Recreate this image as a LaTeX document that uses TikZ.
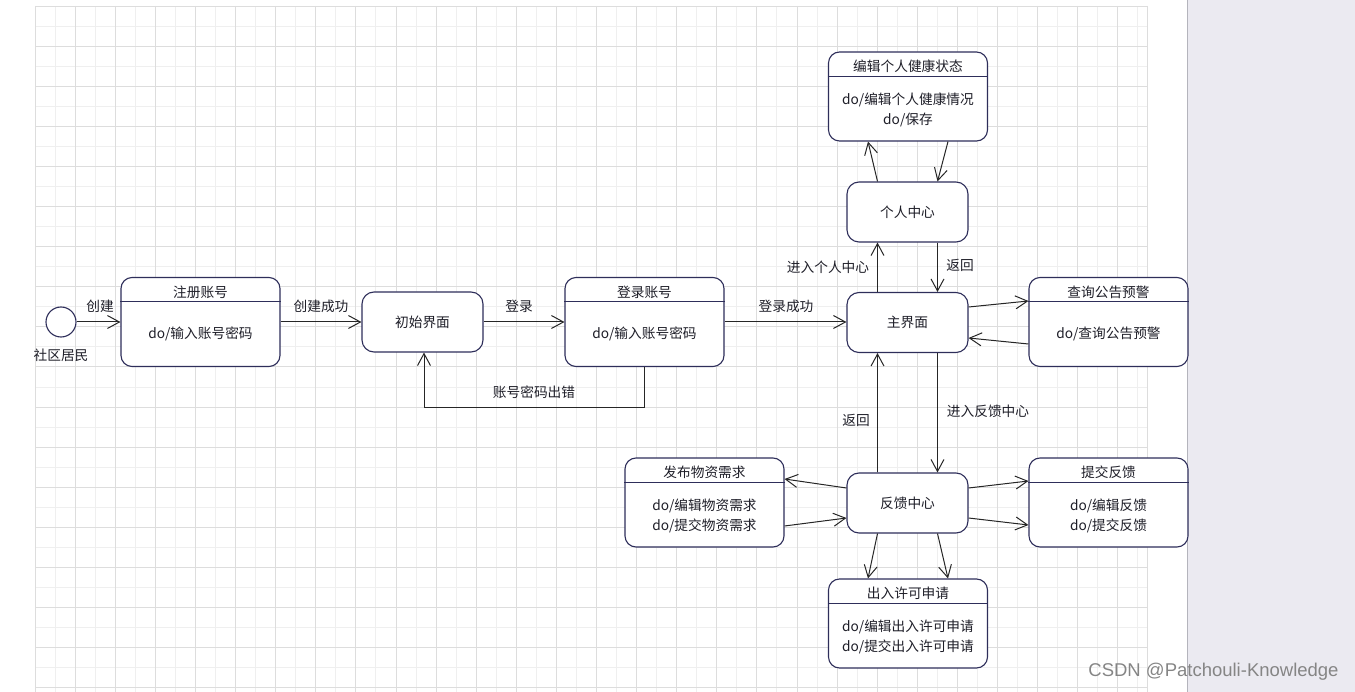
\documentclass[tikz,border=0pt]{standalone}
\usepackage{fontspec}
\setmainfont{Noto Sans CJK SC}
\newfontfamily\wmfont{Liberation Sans}
\usetikzlibrary{arrows.meta,calc}
\definecolor{nodeline}{HTML}{2E2E5A}
\definecolor{txtcol}{HTML}{1E1E28}
\definecolor{griddark}{HTML}{DDDDDD}
\definecolor{gridlight}{HTML}{EFEFEF}
\definecolor{panel}{HTML}{EBEAF1}
\definecolor{panelline}{HTML}{B4B4BC}
\definecolor{edgecol}{HTML}{262626}
\tikzset{
  stbox/.style={draw=nodeline, line width=1.1pt, rounded corners=11pt, fill=white,
    minimum width=159pt, minimum height=89pt, inner sep=0pt},
  simplebox/.style={draw=nodeline, line width=1.1pt, rounded corners=12pt, fill=white,
    minimum width=121pt, minimum height=60pt, inner sep=0pt,
    font=\fontsize{13.7}{16}\selectfont, text=txtcol},
  txt/.style={font=\fontsize{13.7}{20}\selectfont, text=txtcol, inner sep=0pt, align=center},
  hdr/.style={draw=nodeline, line width=1.1pt},
  conn/.style={draw=edgecol, line width=1pt, -{Straight Barb[length=12pt,width=13pt]}},
}
\begin{document}
\begin{tikzpicture}[x=1pt,y=-1pt]
\useasboundingbox (0,0) rectangle (1355,692);
% grid
\foreach \j in {0,...,27} \draw[gridlight, line width=0.8pt] ({55.05+40.1*\j},6) -- ({55.05+40.1*\j},692);
\foreach \j in {0,...,16} \draw[gridlight, line width=0.8pt] (35,{26.05+40.1*\j}) -- (1147,{26.05+40.1*\j});
\foreach \j in {0,...,27} \draw[griddark, line width=0.8pt] ({35+40.1*\j},6) -- ({35+40.1*\j},692);
\foreach \j in {0,...,17} \draw[griddark, line width=0.8pt] (35,{6+40.1*\j}) -- (1147,{6+40.1*\j});
\draw[griddark, line width=0.8pt] (1147,6) -- (1147,692);
% right panel
\fill[panel] (1187,0) rectangle (1355,692);
\draw[panelline, line width=1pt] (1187.5,0) -- (1187.5,692);

% initial state
\node[circle, draw=nodeline, line width=1.1pt, fill=white, minimum size=30pt, inner sep=0pt] (init) at (61,322) {};
\node[txt] (initlbl) at (61,355) {社区居民};

% 注册账号
\node[stbox] (zc) at (200.5,322) {};
\draw[hdr] ($(zc.north west)+(0,25)$) -- ($(zc.north east)+(0,25)$);
\node[txt] (zct) at (200.5,292) {注册账号};
\node[txt] (zcb) at (200.5,334) {do/输入账号密码};

% 初始界面
\node[simplebox] (csjm) at (422.5,322) {初始界面};

% 登录账号
\node[stbox] (dl) at (644.5,322) {};
\draw[hdr] ($(dl.north west)+(0,25)$) -- ($(dl.north east)+(0,25)$);
\node[txt] (dlt) at (644.5,292) {登录账号};
\node[txt] (dlb) at (644.5,334) {do/输入账号密码};

% 主界面
\node[simplebox] (zjm) at (907.5,322.5) {主界面};
% 个人中心
\node[simplebox] (grzx) at (907.5,212) {个人中心};
% 反馈中心
\node[simplebox] (fkzx) at (907.5,503) {反馈中心};

% 编辑个人健康状态
\node[stbox] (bj) at (908,96.5) {};
\draw[hdr] ($(bj.north west)+(0,25)$) -- ($(bj.north east)+(0,25)$);
\node[txt] (bjt) at (908,66.5) {编辑个人健康状态};
\node[txt] (bjb) at (908,110) {do/编辑个人健康情况\\do/保存};

% 查询公告预警
\node[stbox] (cx) at (1108.5,322) {};
\draw[hdr] ($(cx.north west)+(0,25)$) -- ($(cx.north east)+(0,25)$);
\node[txt] (cxt) at (1108.5,292) {查询公告预警};
\node[txt] (cxb) at (1108.5,334) {do/查询公告预警};

% 发布物资需求
\node[stbox] (fb) at (704.5,502.5) {};
\draw[hdr] ($(fb.north west)+(0,25)$) -- ($(fb.north east)+(0,25)$);
\node[txt] (fbt) at (704.5,472.5) {发布物资需求};
\node[txt] (fbb) at (704.5,516) {do/编辑物资需求\\do/提交物资需求};

% 提交反馈
\node[stbox] (tj) at (1108.5,502.5) {};
\draw[hdr] ($(tj.north west)+(0,25)$) -- ($(tj.north east)+(0,25)$);
\node[txt] (tjt) at (1108.5,472.5) {提交反馈};
\node[txt] (tjb) at (1108.5,516) {do/编辑反馈\\do/提交反馈};

% 出入许可申请
\node[stbox] (cr) at (908,623.5) {};
\draw[hdr] ($(cr.north west)+(0,25)$) -- ($(cr.north east)+(0,25)$);
\node[txt] (crt) at (908,593.5) {出入许可申请};
\node[txt] (crb) at (908,637) {do/编辑出入许可申请\\do/提交出入许可申请};

% connectors
\draw[conn] (init) -- (zc);
\draw[conn] (zc) -- (csjm);
\draw[conn] (csjm) -- (dl);
\draw[conn] (dl) -- (zjm.west |- dl);
\draw[conn] (dl.south) -- ++(0,40) -| ($(csjm.south)+(1.5,0)$);
\draw[conn] ($(zjm.north)+(-30,0)$) -- ($(grzx.south)+(-30,0)$);
\draw[conn] ($(grzx.south)+(30,0)$) -- ($(zjm.north)+(30,0)$);
\draw[conn] ($(zjm.south)+(30,0)$) -- ($(fkzx.north)+(30,0)$);
\draw[conn] ($(fkzx.north)+(-30,0)$) -- ($(zjm.south)+(-30,0)$);
\draw[conn] ($(grzx.north)+(-30,0)$) -- ($(bj.south)+(-40,0)$);
\draw[conn] ($(bj.south)+(40,0)$) -- ($(grzx.north)+(30,0)$);
\draw[conn] ($(fkzx.south)+(-30,0)$) -- ($(cr.north)+(-40,0)$);
\draw[conn] ($(fkzx.south)+(30,0)$) -- ($(cr.north)+(40,0)$);
\draw[conn] ($(zjm.east)+(0,-15.5)$) -- ($(cx.west)+(0,-21)$);
\draw[conn] ($(cx.west)+(0,22)$) -- ($(zjm.east)+(0,15.5)$);
\draw[conn] ($(fkzx.west)+(0,-15)$) -- ($(fb.east)+(0,-23.5)$);
\draw[conn] ($(fb.east)+(0,23.5)$) -- ($(fkzx.west)+(0,15)$);
\draw[conn] ($(fkzx.east)+(0,-15)$) -- ($(tj.west)+(0,-21.5)$);
\draw[conn] ($(fkzx.east)+(0,15)$) -- ($(tj.west)+(0,22.5)$);

% labels
\node[txt] (l1) at (100,306.5) {创建};
\node[txt] (l2) at (321,306.5) {创建成功};
\node[txt] (l3) at (519,306.5) {登录};
\node[txt] (l4) at (786,306.5) {登录成功};
\node[txt] (l5) at (534,392.5) {账号密码出错};
\node[txt] (l6) at (828,267.5) {进入个人中心};
\node[txt] (l7) at (960,265.5) {返回};
\node[txt] (l8) at (856,420.5) {返回};
\node[txt] (l9) at (988,411.5) {进入反馈中心};

% watermark
\node[font=\wmfont\fontsize{18.5}{19}\selectfont, text=black!48, inner sep=0pt] (wm) at (1213.5,672) {CSDN @Patchouli-Knowledge};
\end{tikzpicture}
\end{document}
